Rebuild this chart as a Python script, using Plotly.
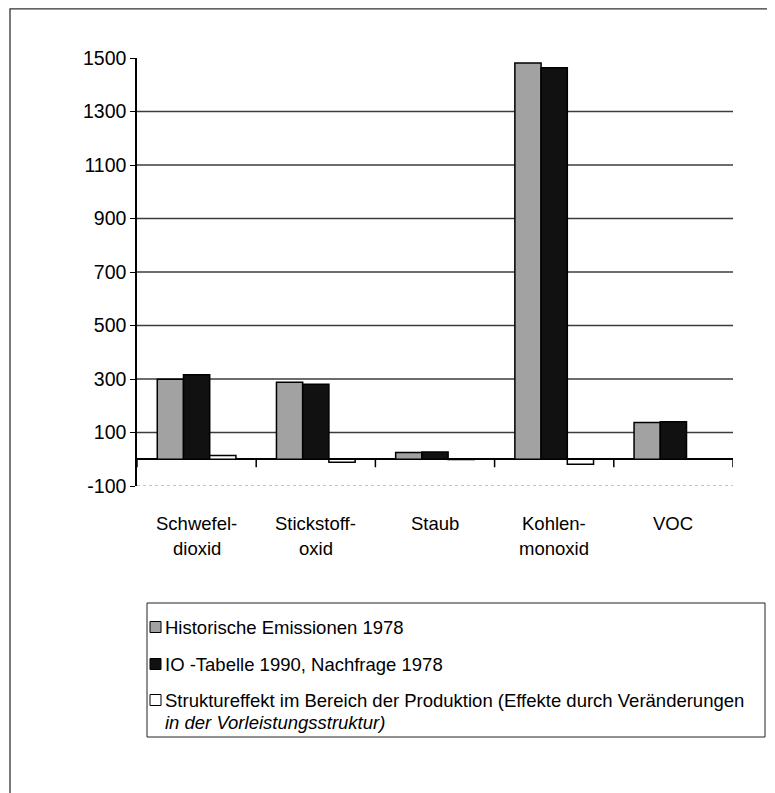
import plotly.graph_objects as go

# ---------------- data ----------------
categories = ["Schwefeldioxid", "Stickstoffoxid", "Staub", "Kohlenmonoxid", "VOC"]
cat_line1 = ["Schwefel-", "Stickstoff-", "Staub", "Kohlen-", "VOC"]
cat_line2 = ["dioxid", "oxid", "", "monoxid", ""]

series_names = [
    "Historische Emissionen 1978",
    "IO -Tabelle 1990, Nachfrage 1978",
    "Struktureffekt im Bereich der Produktion (Effekte durch Veränderungen",
]
series_name_line2 = ["", "", "<i>in der Vorleistungsstruktur)</i>"]

hist_1978 = [299, 288, 25, 1481, 137]
io_1990 = [316, 280, 27, 1464, 140]
struktur = [14, -11, -1, -19, 0]

y_tickvals = [-100, 100, 300, 500, 700, 900, 1100, 1300, 1500]
grid_vals = [100, 300, 500, 700, 900, 1100, 1300]

# ---------------- layout helpers ----------------
# page has an 8px body margin, so the figure is shifted by OFF
OFF = 8
PAGE_W, PAGE_H = 775, 793
W, H = PAGE_W - OFF, PAGE_H - OFF
L, R, T, B = 137, 733, 58, 486  # plot area in page pixels


def px_x(p):
    return (p - L) / (R - L)


def px_y(p):
    return (B - p) / (B - T)


FONT = "Liberation Sans Narrow, Liberation Sans, Arial, Helvetica, sans-serif"
fills = ["#a2a2a2", "#111111", "#ffffff"]

fig = go.Figure()
for name, vals, col in zip(series_names, [hist_1978, io_1990, struktur], fills):
    fig.add_trace(go.Bar(
        x=categories, y=vals, name=name,
        marker=dict(color=col, line=dict(color="#000000", width=1.5)),
        showlegend=False,
    ))

shapes = []
for g in grid_vals:
    shapes.append(dict(type="line", xref="paper", yref="y", x0=0, x1=1, y0=g, y1=g,
                       line=dict(color="#3c3c3c", width=1.5), layer="below"))
shapes.append(dict(type="line", xref="paper", yref="y", x0=0, x1=1,
                   y0=y_tickvals[0], y1=y_tickvals[0],
                   line=dict(color="#888888", width=1, dash="dot"), layer="below"))
for i in range(len(categories) + 1):
    shapes.append(dict(type="line", xref="x", yref="y", ysizemode="pixel", yanchor=0,
                       x0=i - 0.5, x1=i - 0.5, y0=0, y1=-8,
                       line=dict(color="#000000", width=1.5)))
# outer frame
shapes.append(dict(type="rect", xref="paper", yref="paper",
                   x0=px_x(10), x1=px_x(PAGE_W + 10), y0=px_y(8.8), y1=px_y(PAGE_H + 10),
                   line=dict(color="#333333", width=1.3)))
# legend box
shapes.append(dict(type="rect", xref="paper", yref="paper",
                   x0=px_x(147), x1=px_x(765), y0=px_y(603), y1=px_y(737),
                   line=dict(color="#222222", width=1)))

annotations = []
CAT_SIZE = 18.5
for i, (l1, l2) in enumerate(zip(cat_line1, cat_line2)):
    annotations.append(dict(x=categories[i], xref="x", y=px_y(523), yref="paper",
                            text=l1, showarrow=False, xanchor="center", yanchor="middle",
                            font=dict(family=FONT, size=CAT_SIZE, color="#000")))
    if l2:
        annotations.append(dict(x=categories[i], xref="x", y=px_y(548), yref="paper",
                                text=l2, showarrow=False, xanchor="center", yanchor="middle",
                                font=dict(family=FONT, size=CAT_SIZE, color="#000")))

LEG_SIZE = 18.5
item_y = [627, 664, 700]
for name, l2, yy, col in zip(series_names, series_name_line2, item_y, fills):
    shapes.append(dict(type="rect", xref="paper", yref="paper",
                       x0=px_x(150), x1=px_x(161), y0=px_y(yy - 5.5), y1=px_y(yy + 5.5),
                       fillcolor=col, line=dict(color="#000000", width=1)))
    annotations.append(dict(x=px_x(163), xref="paper", y=px_y(yy), yref="paper",
                            text=name, showarrow=False, xanchor="left", yanchor="middle",
                            font=dict(family=FONT, size=LEG_SIZE, color="#000")))
    if l2:
        annotations.append(dict(x=px_x(163), xref="paper", y=px_y(yy + 22), yref="paper",
                                text=l2, showarrow=False, xanchor="left", yanchor="middle",
                                font=dict(family=FONT, size=LEG_SIZE, color="#000")))

fig.update_layout(
    width=W, height=H,
    margin=dict(l=L - OFF, r=PAGE_W - R, t=T - OFF, b=PAGE_H - B, pad=0),
    paper_bgcolor="#ffffff", plot_bgcolor="#ffffff",
    barmode="group", bargap=0.34, bargroupgap=0,
    showlegend=False,
    font=dict(family=FONT, color="#000"),
    shapes=shapes, annotations=annotations,
    xaxis=dict(showticklabels=False, showgrid=False, showline=False, zeroline=False,
               ticks="", range=[-0.5, len(categories) - 0.5]),
    yaxis=dict(range=[-100, 1500], tickvals=y_tickvals,
               ticktext=[str(v) for v in y_tickvals],
               showgrid=False, zeroline=True, zerolinecolor="#000000", zerolinewidth=2,
               showline=True, linecolor="#000000", linewidth=1.5,
               ticks="outside", ticklen=5, tickcolor="#000", tickwidth=1.3,
               tickfont=dict(family=FONT, size=19.5, color="#000")),
)

fig.write_html("out.html")
